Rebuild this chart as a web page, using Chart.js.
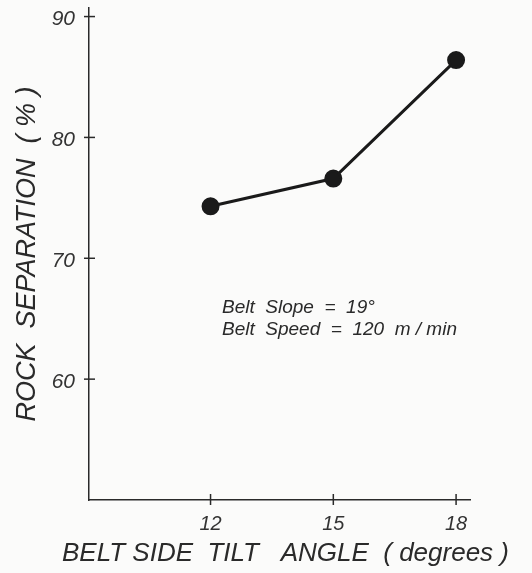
<!DOCTYPE html>
<html lang="en">
<head>
	<meta charset="UTF-8">
	<title>Rock Separation</title>
	<script src="https://cdn.jsdelivr.net/npm/chart.js"></script>
	<style>
		body { margin: 0; background: #fbfbfa; }
		.wrap { width: 532px; height: 573px; }
	</style>
</head>
<body>
	<div class="wrap">
		<canvas id="lineChart"></canvas>
	</div>

	<script type="text/javascript">
		// values
		var tiltAngle = [12, 15, 18];
		var separation = [74.3, 76.6, 86.4];
		var xTicks = [12, 15, 18];
		var yTicks = [60, 70, 80, 90];
		var xTitle = 'BELT SIDE  TILT   ANGLE  ( degrees )';
		var noteLines = ['Belt  Slope  =  19°', 'Belt  Speed  =  120  m / min'];

		var ink = '#1a1a1a';
		var fontFam = '"Liberation Sans", Arial, sans-serif';

		// tick marks crossing the axis lines, the x title and the note text
		var crossTicks = {
			id: 'crossTicks',
			afterDraw: function (chart) {
				var ctx = chart.ctx;
				var x = chart.scales.x, y = chart.scales.y;
				var area = chart.chartArea;
				ctx.save();
				ctx.strokeStyle = '#2a2a2a';
				ctx.lineWidth = 1.5;
				yTicks.forEach(function (v) {
					var py = y.getPixelForValue(v);
					ctx.beginPath();
					ctx.moveTo(area.left - 5, py);
					ctx.lineTo(area.left + 6, py);
					ctx.stroke();
				});
				xTicks.forEach(function (v) {
					var px = x.getPixelForValue(v);
					ctx.beginPath();
					ctx.moveTo(px, area.bottom - 6);
					ctx.lineTo(px, area.bottom + 5);
					ctx.stroke();
				});
				ctx.fillStyle = '#2a2a2a';
				// x axis title, a bit right of the axis centre like the original
				ctx.font = 'italic 26px ' + fontFam;
				ctx.textAlign = 'center';
				ctx.textBaseline = 'middle';
				ctx.fillText(xTitle, (area.left + area.right) / 2 + 6, area.bottom + 54);
				// note text
				ctx.font = 'italic 19px ' + fontFam;
				ctx.textBaseline = 'alphabetic';
				ctx.textAlign = 'left';
				var nx = x.getPixelForValue(12.28);
				ctx.fillText(noteLines[0], nx, y.getPixelForValue(65.45));
				ctx.fillText(noteLines[1], nx, y.getPixelForValue(63.65));
				ctx.restore();
			}
		};

		var ctx = document.getElementById('lineChart').getContext('2d');
		var myChart = new Chart(ctx, {
			type: 'line',
			data: {
				datasets: [{
					label: 'rock separation',
					data: tiltAngle.map(function (a, i) { return { x: a, y: separation[i] }; }),
					borderColor: ink,
					backgroundColor: ink,
					borderWidth: 3,
					pointRadius: 7.5,
					pointHoverRadius: 7.5,
					tension: 0,
					fill: false
				}]
			},
			options: {
				responsive: true,
				maintainAspectRatio: false,
				animation: false,
				layout: { autoPadding: false, padding: { top: 7, right: 62, left: 0, bottom: 0 } },
				plugins: {
					legend: { display: false },
					tooltip: { enabled: false }
				},
				scales: {
					x: {
						type: 'linear',
						min: 9.03,
						max: 18.34,
						afterBuildTicks: function (s) { s.ticks = xTicks.map(function (v) { return { value: v }; }); },
						afterFit: function (s) { s.height = 73; },
						grid: { display: false },
						border: { display: true, color: '#2a2a2a', width: 1.5 },
						ticks: {
							color: '#333',
							padding: 4,
							maxRotation: 0,
							font: { family: fontFam, size: 20, style: 'italic' }
						}
					},
					y: {
						min: 50,
						max: 90.7,
						afterBuildTicks: function (s) { s.ticks = yTicks.map(function (v) { return { value: v }; }); },
						afterFit: function (s) { s.width = 89; },
						grid: { display: false },
						border: { display: true, color: '#2a2a2a', width: 1.5 },
						ticks: {
							color: '#333',
							padding: 6,
							labelOffset: 3,
							font: { family: fontFam, size: 21, style: 'italic', lineHeight: 0.2 }
						},
						title: {
							display: true,
							text: 'ROCK  SEPARATION  ( % )',
							color: '#2a2a2a',
							font: { family: fontFam, size: 27, style: 'italic', weight: 'normal', lineHeight: 1.2 },
							padding: { top: 11, bottom: 0 }
						}
					}
				}
			},
			plugins: [crossTicks]
		});
	</script>
</body>
</html>
